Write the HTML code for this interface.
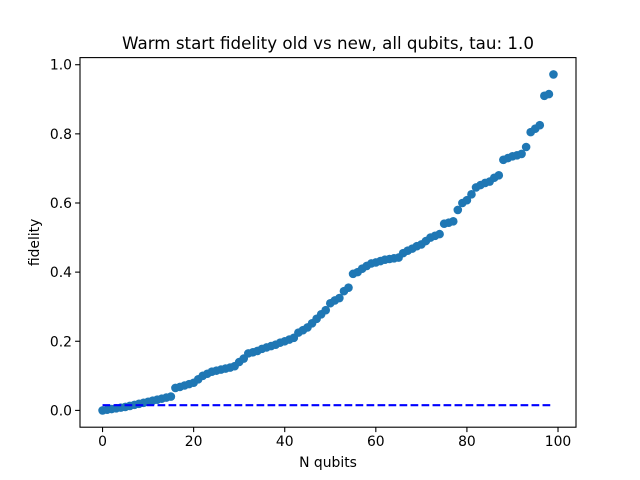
<!DOCTYPE html>
<html><head><meta charset="utf-8"><style>
body{margin:0;background:#fff;}
svg{display:block;font-family:"DejaVu Sans","Liberation Sans",sans-serif;}
</style></head><body>
<svg id="chart" width="640" height="480"></svg>
<script>
const fidelity=[0.000,0.002,0.004,0.006,0.008,0.010,0.013,0.016,0.019,0.022,
0.025,0.028,0.031,0.034,0.037,0.040,0.065,0.068,0.072,0.076,
0.080,0.090,0.100,0.106,0.112,0.115,0.118,0.121,0.124,0.128,
0.140,0.150,0.165,0.168,0.172,0.178,0.182,0.186,0.190,0.196,
0.200,0.205,0.210,0.225,0.232,0.240,0.252,0.265,0.278,0.290,
0.310,0.318,0.325,0.345,0.355,0.395,0.400,0.410,0.418,0.425,
0.428,0.432,0.436,0.438,0.440,0.442,0.455,0.462,0.468,0.475,
0.480,0.490,0.500,0.505,0.510,0.540,0.543,0.547,0.580,0.600,
0.608,0.625,0.645,0.652,0.658,0.662,0.673,0.680,0.725,0.730,
0.735,0.738,0.742,0.762,0.805,0.815,0.825,0.910,0.915,0.972];
const thresholdValue=0.015;
const xTicks=[0,20,40,60,80,100];
const yTicks=[0.0,0.2,0.4,0.6,0.8,1.0];
const NS="http://www.w3.org/2000/svg";
const svg=document.getElementById('chart');
const L=80,R=576,T=57.6,B=427.2;
const xMin=-4.95,xMax=103.95,yMin=-0.0486,yMax=1.0206;
const sx=v=>L+(v-xMin)/(xMax-xMin)*(R-L);
const sy=v=>B-(v-yMin)/(yMax-yMin)*(B-T);
function mk(tag,attrs,parent){const e=document.createElementNS(NS,tag);for(const k in attrs)e.setAttribute(k,attrs[k]);(parent||svg).appendChild(e);return e;}
const pts=mk('g',{});


fidelity.forEach((v,i)=>{const c=mk('circle',{cx:sx(i),cy:sy(v),r:4.3,fill:'#1f77b4'},pts);

});
const ln=mk('line',{x1:sx(0),x2:sx(fidelity.length-1),y1:sy(thresholdValue),y2:sy(thresholdValue),stroke:'#0000ff','stroke-width':2.1,'stroke-dasharray':'7.7,3.3'});


const fr=mk('rect',{x:L,y:T,width:R-L,height:B-T,fill:'none',stroke:'#000','stroke-width':1.1});


xTicks.forEach(t=>{const x=sx(t);mk('line',{x1:x,x2:x,y1:B,y2:B+4.9,stroke:'#000','stroke-width':1.1});
const tx=mk('text',{x:x,y:B+19,'font-size':13.9,'text-anchor':'middle'});tx.textContent=t;

});
yTicks.forEach(t=>{const y=sy(t);mk('line',{x1:L,x2:L-4.9,y1:y,y2:y,stroke:'#000','stroke-width':1.1});
const tx=mk('text',{x:L-8,y:y+5,'font-size':13.9,'text-anchor':'end'});tx.textContent=t.toFixed(1);

});
const xt=mk('text',{x:(L+R)/2,y:467,'font-size':13.9,'text-anchor':'middle'});xt.textContent='N qubits';


const yt=mk('text',{x:0,y:0,'font-size':13.9,'text-anchor':'middle',transform:`translate(39,${(T+B)/2}) rotate(-90)`});yt.textContent='fidelity';


const ti=mk('text',{x:(L+R)/2,y:49,'font-size':16.7,'text-anchor':'middle'});ti.textContent='Warm start fidelity old vs new, all qubits, tau: 1.0';


</script>
</body></html>
